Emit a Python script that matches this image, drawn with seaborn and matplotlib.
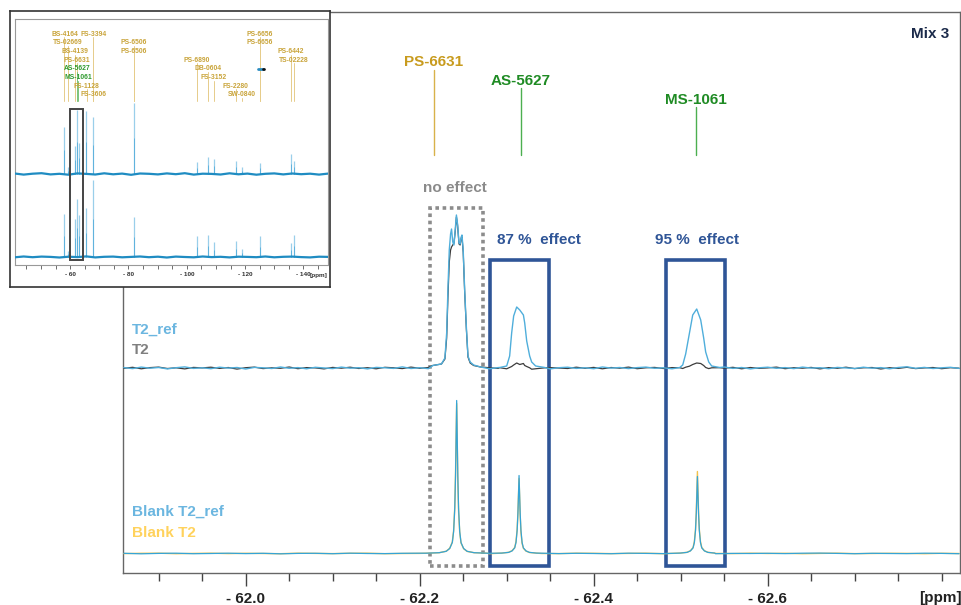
import numpy as np
import pandas as pd
import matplotlib
matplotlib.use("Agg")
import matplotlib.pyplot as plt
import seaborn as sns
from matplotlib.patches import Rectangle
from matplotlib.ticker import FixedLocator, MultipleLocator

sns.set_theme(style="white")
plt.rcParams['font.family'] = ['Liberation Sans', 'DejaVu Sans']

W, H = 962, 605
def fx(x): return x / W
def fy(y): return 1 - y / H

# ================= DATA =================
x_ticks = [-62.0, -62.2, -62.4, -62.6]
x_tick_labels = ["- 62.0", "- 62.2", "- 62.4", "- 62.6"]

# compound labels of the zoomed view
main_label_names = ["PS-6631", "AS-5627", "MS-1061"]
main_label_ppm = [-62.2161, -62.3161, -62.5172]

effect_labels = ["no effect", "87 %  effect", "95 %  effect"]

# ---- top spectra (T2_ref / T2): baseline noise on a 0.01 ppm grid ----
top_noise_ppm = list(np.linspace(-61.86, -62.82, 97))
t2ref_noise = [0.4,-0.6,0.9,-0.2,0.5,-0.9,0.3,1.1,-0.4,0.2,
               -0.7,0.8,-0.1,0.5,-1.0,0.6,0.2,-0.5,1.0,-0.3,
               0.4,-0.8,0.7,0.1,-0.6,0.9,-0.2,0.3,-0.9,0.6,
               0.2,-0.4,1.1,-0.5,0.3,-0.7,0.8,0.0,-0.6,0.5,
               -0.2,0.9,-0.8,0.4,0.1,-0.5,0.7,-0.3,0.6,-0.9,
               0.3,0.8,-0.4,0.2,-0.7,1.0,-0.1,0.5,-0.6,0.4,
               0.9,-0.3,0.2,-0.8,0.6,-0.2,0.7,-0.5,0.3,1.0,
               -0.4,0.5,-0.9,0.2,0.8,-0.3,0.4,-0.6,0.9,-0.1,
               0.3,-0.7,0.6,0.1,-0.5,0.8,-0.2,0.4,-0.8,0.5,
               1.2,-0.3,0.6,-0.5,0.2,0.7,-0.4]
t2_noise = [-0.3,0.7,-0.8,0.4,0.9,-0.5,0.2,-0.9,0.6,0.1,
            0.8,-0.4,0.5,-1.1,0.3,0.9,-0.6,0.2,-0.3,1.0,
            -0.7,0.4,0.1,-0.9,0.6,-0.2,0.8,-0.5,0.3,-0.8,
            0.7,0.2,-0.6,0.9,-0.3,0.5,-1.0,0.4,0.8,-0.2,
            0.6,-0.7,0.3,-0.4,1.0,-0.6,0.2,0.7,-0.9,0.4,
            -0.1,-0.5,0.8,-0.3,0.6,-0.8,0.5,-0.2,0.9,-0.7,
            0.2,0.6,-0.5,0.4,-0.9,0.8,-0.1,0.3,-0.6,-0.2,
            0.7,-0.8,0.5,-0.4,0.1,0.9,-0.7,0.3,-0.2,0.6,
            -0.9,0.4,-0.3,0.8,-0.6,0.2,0.5,-1.0,0.3,-0.4,
            0.7,-0.6,0.1,0.5,-0.7,0.3,-0.2]

# peak 1 (no effect)
top_p1_ppm = [-62.215, -62.225, -62.229, -62.231, -62.2325, -62.234, -62.2355, -62.2366,
              -62.238, -62.2394, -62.241, -62.2422, -62.2435, -62.2452, -62.2465, -62.2477,
              -62.2486, -62.250, -62.2517, -62.2537, -62.2555, -62.258, -62.262, -62.270]
t2ref_p1 = [2.5, 4, 10, 35, 80, 118, 134, 139, 126, 123, 140, 153, 144, 125, 124, 131,
            133, 118, 78, 40, 12, 6, 3, 1]
t2_p1 = [2.5, 4, 9, 30, 72, 106, 118, 121, 123, 125, 138, 151, 143, 124, 123, 130,
         131, 116, 76, 38, 11, 5, 2.5, 1]
# peak 2 (AS-5627)
top_p2_ppm = [-62.292, -62.300, -62.3034, -62.3057, -62.308, -62.3115, -62.315,
              -62.3192, -62.3207, -62.323, -62.3264, -62.3287, -62.3333, -62.3437]
t2ref_p2 = [0.5, 2, 12, 35, 52, 61, 58, 53, 45, 27, 12, 6, 2, 0.5]
t2_p2 = [0.3, -0.8, 0.5, 1.5, 3, 5, 3.5, 4.5, 2.5, 1.5, 0.2, -1.2, -0.8, 0.2]
# peak 3 (MS-1061)
top_p3_ppm = [-62.4989, -62.5023, -62.5057, -62.510, -62.5138, -62.5184, -62.523,
              -62.5264, -62.5287, -62.5322, -62.5356, -62.5448]
t2ref_p3 = [0.5, 3, 14, 35, 53, 59, 48, 30, 16, 6, 2, 0.5]
t2_p3 = [0.3, -0.5, 0.8, 1.8, 3.5, 5, 4.5, 2.5, 0.5, -0.6, 0.2, 0.3]

# ---- bottom spectra (Blank T2_ref / Blank T2) ----
bot_noise_ppm = list(np.linspace(-61.86, -62.82, 49))
blank_ref_noise = [0.2,-0.3,0.1,0.3,-0.2,0.0,0.3,-0.1,0.2,-0.3,
                   0.1,0.2,-0.2,0.3,0.0,-0.1,0.2,0.3,-0.2,0.1,
                   0.0,0.2,-0.3,0.1,0.3,-0.1,0.2,0.0,-0.2,0.3,
                   0.1,-0.1,0.2,0.3,-0.2,0.1,0.0,0.2,-0.1,0.3,
                   0.4,0.1,-0.2,0.2,0.0,-0.1,0.3,0.1,-0.2]
blank_t2_noise = [-0.1,0.2,0.3,-0.2,0.1,0.3,-0.1,0.2,0.0,-0.2,
                  0.3,0.1,-0.1,0.2,0.3,-0.2,0.0,0.1,0.3,-0.1,
                  0.2,-0.2,0.1,0.3,0.0,-0.1,0.3,0.2,-0.1,0.1,
                  0.3,-0.2,0.0,0.2,0.1,-0.1,0.3,0.0,0.2,-0.2,
                  0.1,0.3,-0.1,0.0,0.2,0.1,-0.2,0.2,0.0]
bot_p1_ppm = [-62.2075, -62.2225, -62.2305, -62.2345, -62.2375, -62.2390, -62.2403, -62.2412,
              -62.2425, -62.2438, -62.2447, -62.2460, -62.2475, -62.2505, -62.2545, -62.2625, -62.2775]
blank_ref_p1 = [0.3, 0.8, 2.2, 5, 11, 22, 45, 78, 153, 78, 45, 22, 11, 5, 2.2, 0.8, 0.3]
blank_t2_p1 = [0.3, 0.8, 2.3, 5.2, 11.5, 23, 46, 80, 150, 74, 42, 21, 10.5, 4.8, 2.1, 0.8, 0.3]
bot_p2_ppm = [-62.2942, -62.3022, -62.3062, -62.3092, -62.3107, -62.3120, -62.3129, -62.3142,
              -62.3155, -62.3164, -62.3177, -62.3192, -62.3222, -62.3262, -62.3342]
blank_ref_p2 = [0.4, 1.1, 2.6, 5.6, 11, 23, 40, 78, 40, 23, 11, 5.6, 2.6, 1.1, 0.4]
blank_t2_p2 = [0.4, 1.2, 2.8, 6, 12, 24, 41, 75, 38, 21, 10, 5.2, 2.4, 1.0, 0.4]
bot_p3_ppm = [-62.4992, -62.5072, -62.5112, -62.5142, -62.5157, -62.5170, -62.5179, -62.5192,
              -62.5205, -62.5214, -62.5227, -62.5242, -62.5272, -62.5312, -62.5392]
blank_ref_p3 = [0.4, 1.1, 2.6, 5.6, 11, 23, 40, 77, 40, 23, 11, 5.6, 2.6, 1.1, 0.4]
blank_t2_p3 = [0.4, 1.2, 2.8, 6, 12, 24, 42, 82, 42, 24, 12, 6, 2.8, 1.2, 0.4]

# ---- overview inset ----
inset_ticks = [-60, -80, -100, -120, -140]
inset_tick_labels = ["- 60", "- 80", "- 100", "- 120", "- 140"]
inset_peak_ppm = [-58.05, -59.1, -61.5, -62.4, -63.0, -65.5, -68.0, -81.9,
                  -103.4, -107.3, -109.3, -116.7, -119.0, -125.1, -135.7, -136.7]
inset_top_h = [47, 7, 28, 64, 31, 63, 57, 71, 12, 17, 15, 13, 7, 11, 20, 13]
inset_bot_h = [43, 6, 38, 58, 42, 49, 77, 40, 21, 22, 15, 16, 8, 21, 14, 22]
inset_noise_ppm = list(np.linspace(-41.0, -148.4, 36))
inset_top_noise = [0.5,-0.6,0.3,0.8,-0.4,0.2,-0.7,0.6,0.1,-0.5,0.7,-0.3,
                   0.4,-0.8,0.5,0.2,-0.4,0.6,-0.2,0.8,-0.6,0.3,0.1,-0.5,
                   0.7,-0.3,0.4,-0.7,0.2,0.6,-0.4,0.5,-0.2,0.3,-0.6,0.4]
inset_bot_noise = [-0.3,0.5,-0.2,0.4,0.1,-0.5,0.3,-0.1,0.6,-0.4,0.2,0.4,
                   -0.3,0.1,0.5,-0.2,0.3,-0.5,0.4,0.0,-0.3,0.5,-0.1,0.2,
                   -0.4,0.3,0.1,-0.2,0.5,-0.3,0.2,0.4,-0.1,-0.4,0.3,0.1]
inset_names = ["BS-4164", "TS-02669", "BS-4139", "PS-6631", "AS-5627", "MS-1061",
               "FS-1128", "FS-3606", "FS-3394", "PS-6506", "PS-6506", "PS-6890",
               "DB-0604", "FS-3152", "FS-2280", "SW-0840", "PS-6656", "PS-6656",
               "PS-6442", "TS-02228"]
inset_name_ppm = [-58.05, -59.1, -61.5, -62.2, -62.5, -62.7, -65.7, -68.0, -68.0,
                  -81.9, -81.9, -103.4, -107.3, -109.3, -116.7, -119.0, -125.1, -125.1,
                  -135.7, -136.7]
inset_name_green = [False, False, False, False, True, True, False, False, False, False,
                    False, False, False, False, False, False, False, False, False, False]

# ================= STYLE / LAYOUT =================
C_REF = "#4FAEDB"
C_T2 = "#3C3C3C"
C_BREF = "#35A4D6"
C_BT2 = "#F2C24E"
C_GOLD = "#C89B1E"
C_GOLD_LINE = "#D8B24A"
C_GREEN = "#1F8B24"
C_GREEN_LINE = "#4CAF50"
C_NAVY = "#2F5597"

TOP_OFF = 205      # baseline of upper pair (data units)
BOT_OFF = 19.5     # baseline of lower pair
main_label_text_y = [511, 492, 473]
main_label_line_top = [503, 485, 466]
main_label_line_bot = 418

def build(noise_ppm, noise_vals, peaks, offset):
    xs, ys = [], []
    for p, v in zip(noise_ppm, noise_vals):
        if not any(min(pp) <= p <= max(pp) for pp, _ in peaks):
            xs.append(p); ys.append(v)
    for pp, vv in peaks:
        xs += list(pp); ys += list(vv)
    df = pd.DataFrame({"ppm": xs, "y": np.array(ys, dtype=float) + offset})
    return df.sort_values("ppm", ascending=False).reset_index(drop=True)

fig = plt.figure(figsize=(W / 100, H / 100), dpi=100)
fig.patch.set_facecolor("white")

ax = fig.add_axes([fx(123), fy(573), fx(960) - fx(123), fy(12) - fy(573)])
ax.set_facecolor("white")
ax.set_xlim(-61.859, -62.821)
ax.set_ylim(0, 561)

# boxes
ax.add_patch(Rectangle((-62.2115, 7), -0.0609, 358, fill=False, ec="#8C8C8C",
                       lw=2.6, ls=(0, (1, 1)), zorder=2))
for x0 in (-62.2805, -62.4828):
    ax.add_patch(Rectangle((x0, 7), -0.0678, 306, fill=False, ec=C_NAVY, lw=2.6, zorder=2))

traces = [
    (build(top_noise_ppm, t2_noise, [(top_p1_ppm, t2_p1), (top_p2_ppm, t2_p2), (top_p3_ppm, t2_p3)], TOP_OFF), C_T2, 0.9),
    (build(top_noise_ppm, t2ref_noise, [(top_p1_ppm, t2ref_p1), (top_p2_ppm, t2ref_p2), (top_p3_ppm, t2ref_p3)], TOP_OFF), C_REF, 1.0),
    (build(bot_noise_ppm, blank_t2_noise, [(bot_p1_ppm, blank_t2_p1), (bot_p2_ppm, blank_t2_p2), (bot_p3_ppm, blank_t2_p3)], BOT_OFF), C_BT2, 1.0),
    (build(bot_noise_ppm, blank_ref_noise, [(bot_p1_ppm, blank_ref_p1), (bot_p2_ppm, blank_ref_p2), (bot_p3_ppm, blank_ref_p3)], BOT_OFF), C_BREF, 0.9),
]
for df, c, lw in traces:
    sns.lineplot(data=df, x="ppm", y="y", sort=False, estimator=None, color=c, lw=lw, ax=ax, zorder=3)

# compound annotations
for name, p, ty, lt, col, lcol in zip(main_label_names, main_label_ppm, main_label_text_y,
                                       main_label_line_top,
                                       [C_GOLD, C_GREEN, C_GREEN],
                                       [C_GOLD_LINE, C_GREEN_LINE, C_GREEN_LINE]):
    ax.plot([p, p], [main_label_line_bot, lt], color=lcol, lw=1.0, zorder=3)
    ax.text(p, ty, name, ha="center", va="center", fontsize=11, fontweight="bold", color=col)

fig.text(fx(455), fy(188), effect_labels[0], ha="center", va="center", fontsize=11,
         fontweight="bold", color="#8A8A8A")
fig.text(fx(539), fy(240), effect_labels[1], ha="center", va="center", fontsize=11,
         fontweight="bold", color=C_NAVY)
fig.text(fx(697), fy(240), effect_labels[2], ha="center", va="center", fontsize=11,
         fontweight="bold", color=C_NAVY)
fig.text(fx(930), fy(34), "Mix 3", ha="center", va="center", fontsize=11,
         fontweight="bold", color="#1B2A4A")

fig.text(fx(132), fy(330), "T2_ref", ha="left", va="center", fontsize=11, fontweight="bold", color="#6BB6E0")
fig.text(fx(132), fy(350), "T2", ha="left", va="center", fontsize=11, fontweight="bold", color="#7F7F7F")
fig.text(fx(132), fy(512), "Blank T2_ref", ha="left", va="center", fontsize=11, fontweight="bold", color="#6BB6E0")
fig.text(fx(132), fy(533), "Blank T2", ha="left", va="center", fontsize=11, fontweight="bold", color="#FFD25C")

# axes styling
for s in ax.spines.values():
    s.set_color("#666666"); s.set_linewidth(1.0)
ax.set_yticks([])
ax.xaxis.set_major_locator(FixedLocator(x_ticks))
ax.set_xticklabels(x_tick_labels, fontsize=11, fontweight="bold", color="#222222")
ax.xaxis.set_minor_locator(MultipleLocator(0.05))
ax.tick_params(axis="x", which="major", direction="out", length=9, width=1, color="#444444",
               bottom=True, pad=5)
ax.tick_params(axis="x", which="minor", direction="out", length=6, width=1, color="#444444",
               bottom=True)
ax.set_xlabel(""); ax.set_ylabel("")
fig.text(fx(940), fy(598), "[ppm]", ha="center", va="center", fontsize=11,
         fontweight="bold", color="#222222")

# ================= INSET =================
ax_box = fig.add_axes([fx(10), fy(287), fx(330) - fx(10), fy(11) - fy(287)], zorder=10)
ax_box.set_facecolor("white")
ax_box.set_xticks([]); ax_box.set_yticks([])
for s in ax_box.spines.values():
    s.set_color("#333333"); s.set_linewidth(1.2)

ax_in = fig.add_axes([fx(14.7), fy(265), fx(328) - fx(14.7), fy(19.3) - fy(265)], zorder=11)
ax_in.set_facecolor("white")
ax_in.set_xlim(-41.0, -148.4)
ax_in.set_ylim(0, 245.7)
IN_TOP = 91
IN_BOT = 8
for s in ax_in.spines.values():
    s.set_color("#999999"); s.set_linewidth(0.8)

# sticks
ax_in.vlines(inset_peak_ppm, IN_TOP, [IN_TOP + h for h in inset_top_h], color="#9ACFEA", lw=0.9, zorder=2)
ax_in.vlines(inset_peak_ppm, IN_BOT, [IN_BOT + h for h in inset_bot_h], color="#9ACFEA", lw=0.9, zorder=2)
ax_in.vlines(inset_peak_ppm, IN_TOP, [IN_TOP + 0.5 * h for h in inset_top_h], color="#5FB3DD", lw=0.7, zorder=2)
ax_in.vlines(inset_peak_ppm, IN_BOT, [IN_BOT + 0.5 * h for h in inset_bot_h], color="#5FB3DD", lw=0.7, zorder=2)
dti = pd.DataFrame({"ppm": inset_noise_ppm, "y": np.array(inset_top_noise) + IN_TOP})
sns.lineplot(data=dti, x="ppm", y="y", sort=False, estimator=None, color="#1F8CC2", lw=1.6, ax=ax_in, zorder=3)
dbi = pd.DataFrame({"ppm": inset_noise_ppm, "y": np.array(inset_bot_noise) + IN_BOT})
sns.lineplot(data=dbi, x="ppm", y="y", sort=False, estimator=None, color="#1F8CC2", lw=1.6, ax=ax_in, zorder=3)

# labels in inset
name_y_px = [34, 42.7, 51.3, 60, 68.7, 77.3, 86, 94.7, 34, 42.7, 51.3, 60, 68.7, 77.3,
             86, 94.7, 34, 42.7, 51.3, 60]
for name, p, ypx, g in zip(inset_names, inset_name_ppm, name_y_px, inset_name_green):
    col = "#2E9A2E" if g else "#C9A43A"
    lcol = "#7CC47C" if g else "#E6CC8A"
    ax_in.plot([p, p], [265 - 100.7, 265 - (ypx + 3.5)], color=lcol, lw=0.7, zorder=1)
    ax_in.text(p, 265 - ypx, name, ha="center", va="center", fontsize=4.9,
               fontweight="bold", color=col, zorder=4)
ax_in.plot([-124.5, -126.0], [265 - 68.7, 265 - 68.7], color="#2A8CC0", lw=2, zorder=4)
ax_in.plot([-126.0, -126.6], [265 - 68.7, 265 - 68.7], color="#111111", lw=2, zorder=4)

# overview rectangle
ax_in.add_patch(Rectangle((-60.0, 5), -4.5, 150.7, fill=False, ec="#444444", lw=1.4, zorder=5))

ax_in.set_yticks([])
ax_in.xaxis.set_major_locator(FixedLocator(inset_ticks))
ax_in.set_xticklabels(inset_tick_labels, fontsize=4.6, fontweight="bold", color="#333333")
ax_in.xaxis.set_minor_locator(MultipleLocator(5))
ax_in.tick_params(axis="x", which="major", direction="out", length=3, width=0.6,
                  color="#555555", bottom=True, pad=2)
ax_in.tick_params(axis="x", which="minor", direction="out", length=3, width=0.6,
                  color="#555555", bottom=True)
ax_in.set_xlabel(""); ax_in.set_ylabel("")
fig.text(fx(319), fy(276), "[ppm]", ha="center", va="center", fontsize=4.6,
         fontweight="bold", color="#333333", zorder=12)

fig.savefig("out.png", dpi=100, facecolor="white")
